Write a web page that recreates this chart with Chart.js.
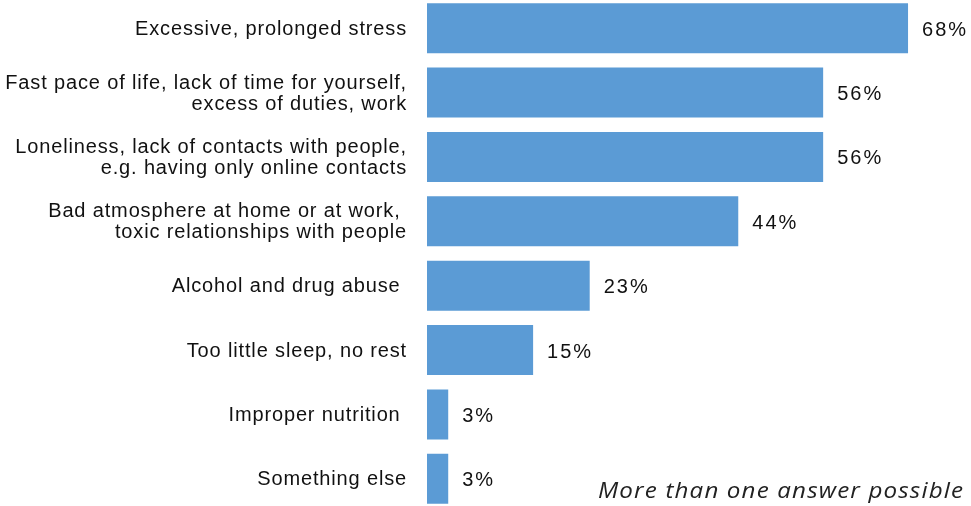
<!DOCTYPE html>
<html>
<head>
<meta charset="utf-8">
<script src="https://cdn.jsdelivr.net/npm/chart.js@4.4.1/dist/chart.umd.min.js"></script>
<style>
  html, body { margin: 0; padding: 0; background: #fff; overflow: hidden; }
  body { width: 971px; height: 506px; position: relative; }
  #wrap { position: absolute; left: 0; top: -4px; width: 971px; height: 515px; }
  #note { position: absolute; left: 598px; top: 476px; font-family: "Open Sans", sans-serif;
          font-style: italic; font-size: 21px; letter-spacing: 1px; color: #222; white-space: nowrap;
          transform: scaleX(1.15); transform-origin: 0 0; }
</style>
</head>
<body>
<div id="wrap"><canvas id="myChart"></canvas></div>
<div id="note">More than one answer possible</div>
<script>
// categories (multi-line labels as arrays)
const categories = [
    ['Excessive, prolonged stress'],
    ['Fast pace of life, lack of time for yourself,', 'excess of duties, work'],
    ['Loneliness, lack of contacts with people,', 'e.g. having only online contacts'],
    ['Bad atmosphere at home or at work, ', 'toxic relationships with people'],
    ['Alcohol and drug abuse '],
    ['Too little sleep, no rest'],
    ['Improper nutrition '],
    ['Something else']
];
const values = [68, 56, 56, 44, 23, 15, 3, 3];

const barColor = '#5b9bd5';

// letter spacing for the category labels
const spacing = {
    id: 'spacing',
    beforeDraw(chart) {
        chart.ctx.letterSpacing = '0.85px';
    }
};

// draw the % next to each bar
const valueLabels = {
    id: 'valueLabels',
    afterDatasetsDraw(chart) {
        const ctx = chart.ctx;
        const meta = chart.getDatasetMeta(0);
        ctx.save();
        ctx.letterSpacing = '2px';
        ctx.font = '20px "Liberation Sans", Arial, sans-serif';
        ctx.fillStyle = '#111';
        ctx.textAlign = 'left';
        ctx.textBaseline = 'middle';
        meta.data.forEach((bar, i) => {
            ctx.fillText(values[i] + '%', bar.x + 14, bar.y + 2);
        });
        ctx.restore();
    }
};

const ctx = document.getElementById('myChart');

const chart = new Chart(ctx, {
    type: 'bar',
    data: {
        labels: categories,
        datasets: [{
            data: values,
            backgroundColor: barColor,
            borderWidth: 0,
            barPercentage: 0.776,
            categoryPercentage: 1
        }]
    },
    options: {
        indexAxis: 'y',
        responsive: true,
        maintainAspectRatio: false,
        animation: false,
        layout: { padding: 0 },
        plugins: {
            legend: { display: false },
            tooltip: { enabled: false }
        },
        scales: {
            x: {
                display: false,
                min: 0,
                max: 76.9
            },
            y: {
                grid: { display: false, drawTicks: false },
                border: { display: false },
                ticks: {
                    color: '#111',
                    padding: 20,
                    labelOffset: 1,
                    font: { family: '"Liberation Sans", Arial, sans-serif', size: 20, lineHeight: 1.05 }
                },
                afterFit(scale) {
                    scale.width = 427;
                    scale.paddingTop = 0;
                    scale.paddingBottom = 0;
                }
            }
        }
    },
    plugins: [spacing, valueLabels]
});
</script>
</body>
</html>
